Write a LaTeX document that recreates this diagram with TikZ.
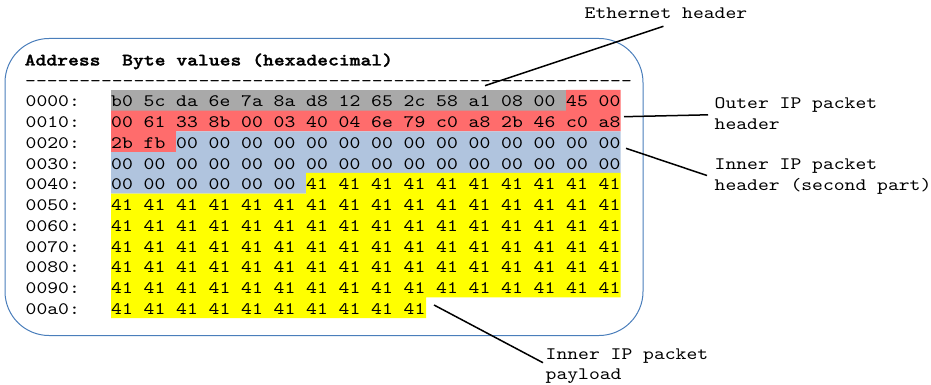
\documentclass[tikz,border=0pt]{standalone}
\usepackage{graphicx}
\usepackage{fontspec}
\newfontfamily\hexfont{lmmono10-regular.otf}[BoldFont=lmmonolt10-bold.otf,
  BoldFeatures={FakeBold=1.2}]
\frenchspacing

\definecolor{ethgrey}{RGB}{169,169,169}
\definecolor{outerred}{RGB}{255,108,108}
\definecolor{innerblue}{RGB}{176,196,222}
\definecolor{payyellow}{RGB}{255,255,0}
\definecolor{frameblue}{RGB}{74,126,187}

% Typewriter text, widened to a fixed 10.83pt character pitch
\newlength\monopitch
\newcommand\widemono[1]{%
  \settowidth\monopitch{0}%
  \pgfmathsetmacro\monoscale{10.8333pt/\monopitch}%
  \scalebox{\monoscale}[1]{#1}}
\newcommand\twolines[2]{\widemono{\begin{tabular}[t]{@{}l@{}}#1\\#2\end{tabular}}}

\tikzset{
  mono/.style={font=\hexfont\fontsize{17.5pt}{20.73pt}\selectfont,
               inner sep=0pt, anchor=base west},
  conn/.style={draw=black, line width=1.5pt},
  frame/.style={draw=frameblue, line width=1pt, rounded corners=44pt}
}

\begin{document}
\begin{tikzpicture}[x=1pt, y=-1pt]
\useasboundingbox (0,0) rectangle (931,385);

% outline of the dump
\draw[frame] (5,38.5) rectangle (643,335.5);

% coloured byte ranges
\fill[ethgrey] (111,90) rectangle (566,110.73);
\fill[outerred] (566,90) -- (620.5,90) -- (620.5,131.46) -- (176,131.46)
  -- (176,152.19) -- (111,152.19) -- (111,110.73) -- (566,110.73) -- cycle;
\fill[innerblue] (176,131.46) -- (620.5,131.46) -- (620.5,172.92) -- (306,172.92)
  -- (306,193.65) -- (111,193.65) -- (111,152.19) -- (176,152.19) -- cycle;
\fill[payyellow] (306,172.92) -- (620.5,172.92) -- (620.5,297.30) -- (426.2,297.30)
  -- (426.2,318.03) -- (111,318.03) -- (111,193.65) -- (306,193.65) -- cycle;

% heading and rule
\node[mono] (hdr) at (24.5,65.5) {\widemono{\bfseries Address~~Byte values (hexadecimal)}};
\node[mono] (rule) at (25,86.3) {\widemono{\foreach \k in {1,...,56}{-}}};

% addresses
\node[mono] (a00) at (25.5,107.00) {\widemono{0000:}};
\node[mono] (a10) at (25.5,127.73) {\widemono{0010:}};
\node[mono] (a20) at (25.5,148.46) {\widemono{0020:}};
\node[mono] (a30) at (25.5,169.19) {\widemono{0030:}};
\node[mono] (a40) at (25.5,189.92) {\widemono{0040:}};
\node[mono] (a50) at (25.5,210.65) {\widemono{0050:}};
\node[mono] (a60) at (25.5,231.38) {\widemono{0060:}};
\node[mono] (a70) at (25.5,252.11) {\widemono{0070:}};
\node[mono] (a80) at (25.5,272.84) {\widemono{0080:}};
\node[mono] (a90) at (25.5,293.57) {\widemono{0090:}};
\node[mono] (aa0) at (25.5,314.30) {\widemono{00a0:}};

% byte values
\node[mono] (b00) at (111,107.00) {\widemono{b0 5c da 6e 7a 8a d8 12 65 2c 58 a1 08 00 45 00}};
\node[mono] (b10) at (111,127.73) {\widemono{00 61 33 8b 00 03 40 04 6e 79 c0 a8 2b 46 c0 a8}};
\node[mono] (b20) at (111,148.46) {\widemono{2b fb 00 00 00 00 00 00 00 00 00 00 00 00 00 00}};
\node[mono] (b30) at (111,169.19) {\widemono{00 00 00 00 00 00 00 00 00 00 00 00 00 00 00 00}};
\node[mono] (b40) at (111,189.92) {\widemono{00 00 00 00 00 00 41 41 41 41 41 41 41 41 41 41}};
\node[mono] (b50) at (111,210.65) {\widemono{41 41 41 41 41 41 41 41 41 41 41 41 41 41 41 41}};
\node[mono] (b60) at (111,231.38) {\widemono{41 41 41 41 41 41 41 41 41 41 41 41 41 41 41 41}};
\node[mono] (b70) at (111,252.11) {\widemono{41 41 41 41 41 41 41 41 41 41 41 41 41 41 41 41}};
\node[mono] (b80) at (111,272.84) {\widemono{41 41 41 41 41 41 41 41 41 41 41 41 41 41 41 41}};
\node[mono] (b90) at (111,293.57) {\widemono{41 41 41 41 41 41 41 41 41 41 41 41 41 41 41 41}};
\node[mono] (ba0) at (111,314.30) {\widemono{41 41 41 41 41 41 41 41 41 41}};

% callout labels
\node[mono] (ethLbl) at (584.5,19) {\widemono{Ethernet header}};
\node[mono] (outerLbl) at (714.5,108.6) {\twolines{Outer IP packet}{header}};
\node[mono] (innerLbl) at (714.5,169.3) {\twolines{Inner IP packet}{header (second part)}};
\node[mono] (payLbl) at (545.5,359) {\twolines{Inner IP packet}{payload}};

% callout lines
\coordinate (ethTip) at (485,85.7);
\coordinate (outerTip) at (624,116.7);
\coordinate (innerTip) at (626,148.3);
\coordinate (payTip) at (434,305);
\draw[conn] (ethTip) -- ([xshift=-2.5pt,yshift=-7pt]ethLbl.south);
\draw[conn] (outerTip) -- ([xshift=-6.5pt]outerLbl.west);
\draw[conn] (innerTip) -- ([xshift=-7.5pt]innerLbl.west);
\draw[conn] (payTip) -- ([xshift=-2.5pt,yshift=2.5pt]payLbl.west);
\end{tikzpicture}
\end{document}
